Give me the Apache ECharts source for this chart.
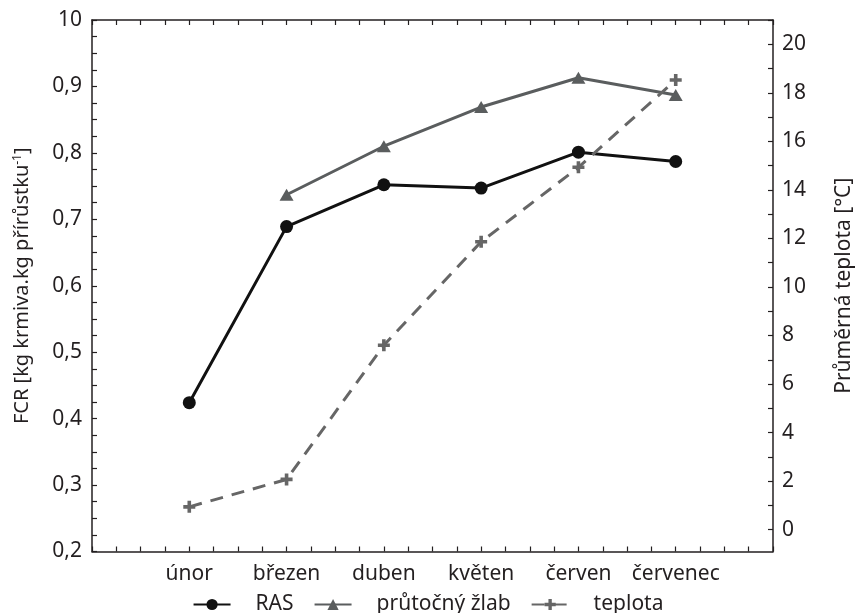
<!DOCTYPE html>
<html><head><meta charset="utf-8">
<script src="https://cdn.jsdelivr.net/npm/echarts@6/dist/echarts.min.js"></script>
<style>html,body{margin:0;padding:0;background:#fff}#c{width:856px;height:613px}</style>
</head><body><div id="c"></div>
<script>
const months = ['únor', 'březen', 'duben', 'květen', 'červen', 'červenec'];
const rasFCR = [0.424, 0.689, 0.752, 0.747, 0.801, 0.787];
const zlabFCR = [null, 0.737, 0.810, 0.869, 0.913, 0.887];
const teplota = [0.94, 2.07, 7.6, 11.86, 14.93, 18.53];
const leftTickLabels = ['0,2', '0,3', '0,4', '0,5', '0,6', '0,7', '0,8', '0,9', '10'];
const rightTickLabels = [0, 2, 4, 6, 8, 10, 12, 14, 16, 18, 20];
const monthPositions = [1, 2, 3, 4, 5, 6];

const rightTicks = [];
for (let t = 0; t <= 21; t++) rightTicks.push(t);

const FONT = 'Noto Sans';
const TXT = '#231f20';
const axisLineStyle = { color: '#231f20', width: 1.5 };
const tickStyle = { color: '#231f20', width: 1.2 };

const toPairs = arr => arr.map((v, i) => [monthPositions[i], v]).filter(d => d[1] !== null);

const plus = 'path://M7,0H13V7H20V13H13V20H7V13H0V7H7Z';

const chart = echarts.init(document.getElementById('c'), null, { renderer: 'canvas' });
chart.setOption({
  animation: false,
  backgroundColor: '#fff',
  textStyle: { fontFamily: FONT, color: TXT },
  grid: { left: 92, right: 83, top: 20, bottom: 61.5, containLabel: false, outerBoundsMode: 'none' },
  xAxis: [
    {
      type: 'value', min: 0, max: 7, interval: 0.25, position: 'bottom',
      axisLine: { show: true, onZero: false, lineStyle: axisLineStyle },
      axisTick: { show: true, inside: true, length: 5, lineStyle: tickStyle },
      splitLine: { show: false },
      axisLabel: {
        show: true, margin: 12, fontSize: 21, color: TXT, fontFamily: FONT,
        customValues: monthPositions,
        formatter: v => months[Math.round(v) - 1] || ''
      }
    },
    {
      type: 'value', min: 0, max: 7, interval: 0.25, position: 'top',
      axisLine: { show: true, onZero: false, lineStyle: axisLineStyle },
      axisTick: { show: true, inside: true, length: 5, lineStyle: tickStyle },
      splitLine: { show: false },
      axisLabel: { show: false }
    }
  ],
  yAxis: [
    {
      type: 'value', min: 0.2, max: 1.0, interval: 0.1, position: 'left',
      axisLine: { show: true, onZero: false, lineStyle: axisLineStyle },
      axisTick: { show: true, inside: true, length: 5, lineStyle: tickStyle },
      minorTick: { show: true, splitNumber: 4, length: 5, lineStyle: tickStyle },
      splitLine: { show: false },
      axisLabel: {
        margin: 10, fontSize: 21, color: TXT, fontFamily: FONT,
        formatter: v => leftTickLabels[Math.round((v - 0.2) * 10)]
      },
      name: 'FCR [kg krmiva.kg přírůstku{sup|-1}]',
      nameLocation: 'middle', nameGap: 60, nameRotate: 90,
      nameTextStyle: {
        fontSize: 20, color: TXT, fontFamily: FONT,
        rich: { sup: { fontSize: 12, verticalAlign: 'top', color: TXT, fontFamily: FONT } }
      }
    },
    {
      type: 'value', min: -0.9, max: 21.0, position: 'right',
      axisLine: { show: true, onZero: false, lineStyle: axisLineStyle },
      axisTick: { show: true, inside: true, length: 5, lineStyle: tickStyle, customValues: rightTicks },
      splitLine: { show: false },
      axisLabel: {
        margin: 9, fontSize: 21, color: TXT, fontFamily: FONT,
        customValues: rightTickLabels,
        formatter: v => String(v)
      },
      name: 'Průměrná teplota [°C]',
      nameLocation: 'middle', nameGap: 61, nameRotate: 90,
      nameTextStyle: { fontSize: 21, color: TXT, fontFamily: FONT }
    }
  ],
  legend: {
    top: 589, left: 'center',
    itemWidth: 37, itemHeight: 14, itemGap: 20,
    formatter: name => '{t|' + name + '}',
    textStyle: {
      fontSize: 21, color: TXT, fontFamily: FONT,
      rich: { t: { fontSize: 21, color: TXT, fontFamily: FONT, padding: [0, 0, 0, 20] } }
    },
    data: ['RAS', 'průtočný žlab', 'teplota']
  },
  series: [
    {
      name: 'RAS', type: 'line', xAxisIndex: 0, yAxisIndex: 0,
      data: toPairs(rasFCR),
      color: '#111111',
      lineStyle: { width: 3, color: '#111111' },
      itemStyle: { color: '#111111' },
      symbol: 'circle', symbolSize: 13, z: 3
    },
    {
      name: 'průtočný žlab', type: 'line', xAxisIndex: 0, yAxisIndex: 0,
      data: toPairs(zlabFCR),
      color: '#5a5d5e',
      lineStyle: { width: 3, color: '#5a5d5e' },
      itemStyle: { color: '#5a5d5e' },
      symbol: 'triangle', symbolSize: [14, 12], z: 3
    },
    {
      name: 'teplota', type: 'line', xAxisIndex: 0, yAxisIndex: 1,
      data: toPairs(teplota),
      color: '#666666',
      lineStyle: { width: 3, color: '#666666', type: [13, 9] },
      itemStyle: { color: '#666666' },
      symbol: plus, symbolSize: 12, z: 4
    }
  ]
});
</script>
</body></html>
